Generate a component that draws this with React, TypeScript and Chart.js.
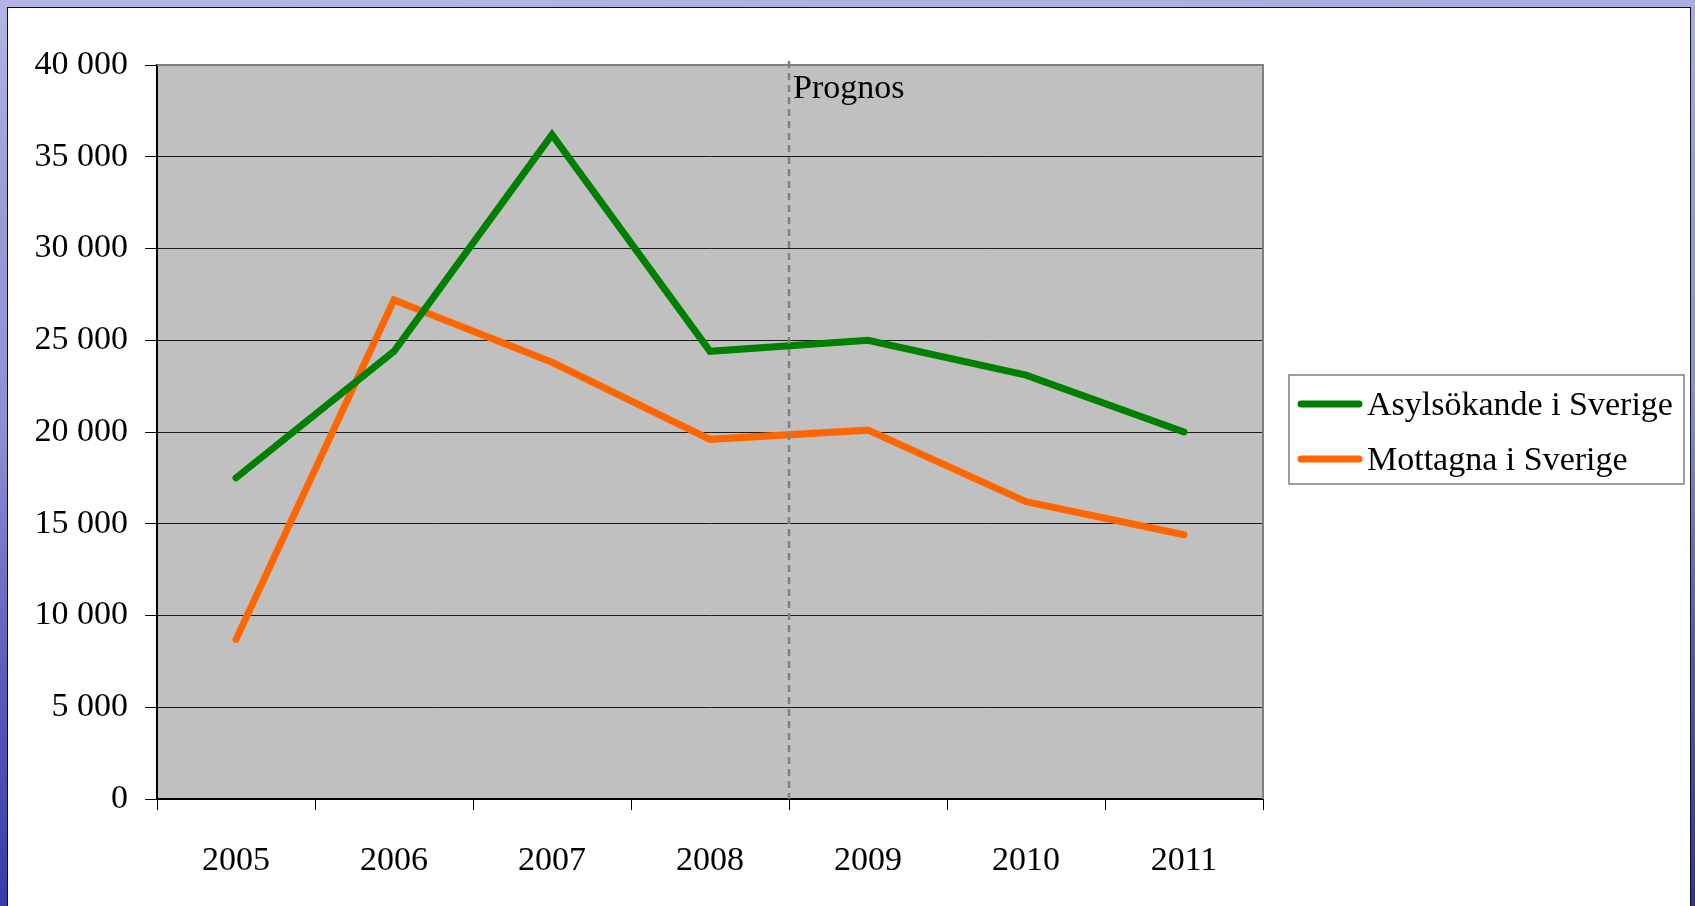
import React, { useEffect, useRef } from 'react';
import { Chart, registerables } from 'chart.js';

Chart.register(...registerables);

const years = ['2005', '2006', '2007', '2008', '2009', '2010', '2011'];
const asylsokande = [17500, 24400, 36200, 24400, 25000, 23100, 20000];
const mottagna = [8700, 27200, 23800, 19600, 20100, 16200, 14400];
const seriesLabels = ['Asylsökande i Sverige', 'Mottagna i Sverige'];
const seriesColors = ['#008000', '#FF6600'];
const prognosLabel = 'Prognos';
const prognosAfterIndex = 3;

const FONT = '"Liberation Serif", "Times New Roman", serif';
const FS = 34;
const W = 1695;
const H = 906;

const fmt = (v: number) => String(v).replace(/\B(?=(\d{3})+(?!\d))/g, ' ');

const decorPlugin = {
  id: 'decor',
  beforeDraw(chart: any) {
    const { ctx, chartArea: a } = chart;
    ctx.save();
    ctx.fillStyle = '#C0C0C0';
    ctx.fillRect(a.left, a.top, a.right - a.left, a.bottom - a.top);
    ctx.restore();
  },
  afterDatasetsDraw(chart: any) {
    const { ctx, chartArea: a } = chart;
    const xs = chart.scales.x;
    const x = (xs.getPixelForValue(prognosAfterIndex) + xs.getPixelForValue(prognosAfterIndex + 1)) / 2;
    ctx.save();
    ctx.strokeStyle = '#808080';
    ctx.lineWidth = 2.5;
    ctx.setLineDash([7, 5]);
    ctx.beginPath();
    ctx.moveTo(x, a.top - 4);
    ctx.lineTo(x, a.bottom);
    ctx.stroke();
    ctx.setLineDash([]);
    ctx.fillStyle = '#000';
    ctx.font = `${FS}px ${FONT}`;
    ctx.textAlign = 'left';
    ctx.textBaseline = 'alphabetic';
    ctx.fillText(prognosLabel, x + 4, a.top + 33);
    ctx.restore();
  },
  afterDraw(chart: any) {
    const { ctx, chartArea: a } = chart;
    ctx.save();
    // plot frame top & right
    ctx.strokeStyle = '#808080';
    ctx.lineWidth = 2;
    ctx.beginPath();
    ctx.moveTo(a.left, a.top);
    ctx.lineTo(a.right, a.top);
    ctx.lineTo(a.right, a.bottom);
    ctx.stroke();

    // legend
    const bx = 1289, by = 375, bw = 395, bh = 109;
    ctx.fillStyle = '#fff';
    ctx.fillRect(bx, by, bw, bh);
    ctx.strokeStyle = '#808080';
    ctx.lineWidth = 1.5;
    ctx.strokeRect(bx, by, bw, bh);
    const rows = [404, 459];
    chart.data.datasets.forEach((ds: any, i: number) => {
      const y = rows[i];
      ctx.strokeStyle = ds.borderColor;
      ctx.lineWidth = 7;
      ctx.lineCap = 'round';
      ctx.beginPath();
      ctx.moveTo(1301, y);
      ctx.lineTo(1359, y);
      ctx.stroke();
      ctx.fillStyle = '#000';
      ctx.font = `${FS}px ${FONT}`;
      ctx.textAlign = 'left';
      ctx.textBaseline = 'middle';
      ctx.fillText(ds.label, 1367, y + 2);
    });
    ctx.restore();
  },
};

export default function App() {
  const ref = useRef<HTMLCanvasElement | null>(null);

  useEffect(() => {
    if (!ref.current) return;
    const chart = new Chart(ref.current, {
      type: 'line',
      data: {
        labels: years,
        datasets: [
          {
            label: seriesLabels[0],
            data: asylsokande,
            borderColor: seriesColors[0],
            backgroundColor: seriesColors[0],
            borderWidth: 7,
            pointRadius: 0,
            tension: 0,
            borderCapStyle: 'round',
            borderJoinStyle: 'miter',
            fill: false,
          },
          {
            label: seriesLabels[1],
            data: mottagna,
            borderColor: seriesColors[1],
            backgroundColor: seriesColors[1],
            borderWidth: 7,
            pointRadius: 0,
            tension: 0,
            borderCapStyle: 'round',
            borderJoinStyle: 'miter',
            fill: false,
          },
        ],
      },
      options: {
        animation: false,
        responsive: false,
        devicePixelRatio: 1,
        layout: { padding: { top: 65, right: W - 1263, left: 0, bottom: 0 } },
        plugins: {
          legend: { display: false },
          tooltip: { enabled: false },
        },
        scales: {
          x: {
            type: 'category',
            offset: true,
            grid: {
              offset: true,
              drawOnChartArea: false,
              drawTicks: true,
              tickLength: 11,
              tickColor: '#000',
              color: '#000',
              lineWidth: 1,
            },
            border: { display: true, color: '#000', width: 2 },
            ticks: {
              color: '#000',
              font: { family: FONT, size: FS },
              padding: 31,
              maxRotation: 0,
              autoSkip: false,
            },
            afterFit: (s: any) => {
              s.height = H - 799;
            },
          },
          y: {
            min: 0,
            max: 40000,
            grid: {
              color: '#1a1a1a',
              lineWidth: 1,
              tickLength: 12,
              tickColor: '#000',
            },
            border: { display: true, color: '#000', width: 2 },
            ticks: {
              stepSize: 5000,
              color: '#000',
              font: { family: FONT, size: FS },
              padding: 17,
              callback: (v: any) => fmt(Number(v)),
            },
            afterFit: (s: any) => {
              s.width = 157;
            },
          },
        },
      } as any,
      plugins: [decorPlugin],
    });
    return () => chart.destroy();
  }, []);

  return (
    <div
      style={{
        position: 'fixed',
        left: 0,
        top: 0,
        width: W,
        height: H,
        overflow: 'hidden',
        background:
          'linear-gradient(178deg, #b4b4e6 0%, #9c9cda 20%, #8e8ed4 45%, #5c5cbc 70%, #3030a4 100%)',
      }}
    >
      <div
        style={{
          position: 'absolute',
          left: 7,
          top: 7,
          width: 1684,
          height: H + 10,
          background: '#fff',
          borderTop: '1.5px solid #111',
          borderLeft: '1.5px solid #111',
          borderRight: '1.5px solid #111',
          boxSizing: 'border-box',
        }}
      />
      <canvas
        ref={ref}
        width={W}
        height={H}
        style={{ position: 'absolute', left: 0, top: 0, width: W, height: H }}
      />
    </div>
  );
}
